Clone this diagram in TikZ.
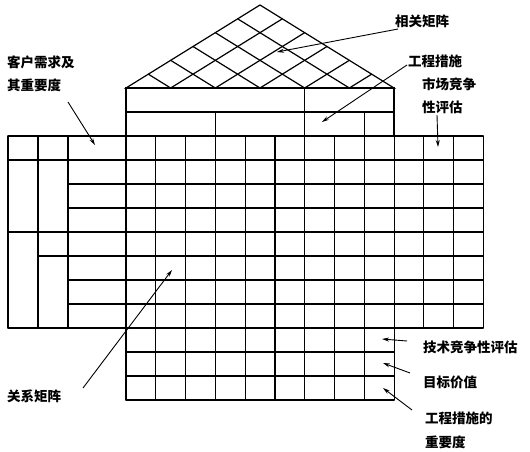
\documentclass[tikz,border=0pt]{standalone}
\usepackage{fontspec}
\newfontfamily\cjk{Noto Sans CJK SC}
\usetikzlibrary{calc,arrows.meta}
\begin{document}
\begin{tikzpicture}[x=1pt,y=-1pt,
  grid/.style={line width=1.2pt,line cap=round},
  lbl/.style={font=\cjk\bfseries\fontsize{13.5}{14}\selectfont,anchor=west,inner sep=0pt},
  arr/.style={line width=0.9pt,-{Stealth[length=7pt,width=4pt]}}]
\useasboundingbox (0,0) rectangle (530,452);
% roof
\coordinate (A) at (126,88);
\coordinate (P) at (260,5);
\coordinate (B) at (394,88);
\draw[grid] (A) -- (P) -- (B) -- cycle;
\foreach \k in {1,...,5} {
  \draw[grid] ($(A)!\k/6!(P)$) -- ($(A)!\k/6!(B)$);
  \draw[grid] ($(B)!\k/6!(P)$) -- ($(B)!\k/6!(A)$);
}
% bands under roof
\draw[grid] (126,88) rectangle (394,136);
\draw[grid] (126,112) -- (394,112);
\draw[grid] (304.8,88) -- (304.8,136);
\draw[grid] (215.4,112) -- (215.4,136);
\draw[grid] (364.4,112) -- (364.4,136);
% main grid incl. bottom rows
\foreach \i in {0,...,9} \draw[grid] ({126+29.8*\i},136) -- ({126+29.8*\i},400);
\foreach \j in {0,...,11} \draw[grid] (126,{136+24*\j}) -- (394,{136+24*\j});
% right block
\foreach \i in {1,2,3} \draw[grid] ({394+29.7*\i},136) -- ({394+29.7*\i},328);
\foreach \j in {0,...,8} \draw[grid] (394,{136+24*\j}) -- (483,{136+24*\j});
% left block
\foreach \x in {8,38,68} \draw[grid] (\x,136) -- (\x,328);
\foreach \y in {136,160,232,328} \draw[grid] (8,\y) -- (126,\y);
\draw[grid] (38,256) -- (126,256);
\foreach \y in {184,208,280,304} \draw[grid] (68,\y) -- (126,\y);
% labels
\node[lbl] (xg) at (395,21) {相关矩阵};
\node[lbl] (gc) at (408,61) {工程措施};
\node[lbl] (sc1) at (422,84) {市场竞争};
\node[lbl] (sc2) at (422,107) {性评估};
\node[lbl] (kh1) at (7,62) {客户需求及};
\node[lbl] (kh2) at (7,85) {其重要度};
\node[lbl] (gx) at (7,396) {关系矩阵};
\node[lbl] (js) at (423,347) {技术竞争性评估};
\node[lbl] (mb) at (423,382) {目标价值};
\node[lbl] (zy1) at (425,418) {工程措施的};
\node[lbl] (zy2) at (425,442) {重要度};
% arrow tails
\coordinate (s1) at (398,29);
\coordinate (s2) at (407,65);
\coordinate (s3) at (437,115);
\coordinate (s4) at (68,102);
\coordinate (s5) at (83,388);
\coordinate (s6) at (407,341);
\coordinate (s7) at (410,373);
\coordinate (s8) at (412,410);
% arrow tips
\coordinate (t1) at (277,52);
\coordinate (t2) at (322,122);
\coordinate (t3) at (438,147);
\coordinate (t4) at (95,145);
\coordinate (t5) at (172,270);
\coordinate (t6) at (382,339);
\coordinate (t7) at (383,363);
\coordinate (t8) at (383,388);
% arrows
\draw[arr] (s1) -- (t1);
\draw[arr] (s2) -- (t2);
\draw[arr] (s3) -- (t3);
\draw[arr] (s4) -- (t4);
\draw[arr] (s5) -- (t5);
\draw[arr] (s6) -- (t6);
\draw[arr] (s7) -- (t7);
\draw[arr] (s8) -- (t8);
\end{tikzpicture}
\end{document}
